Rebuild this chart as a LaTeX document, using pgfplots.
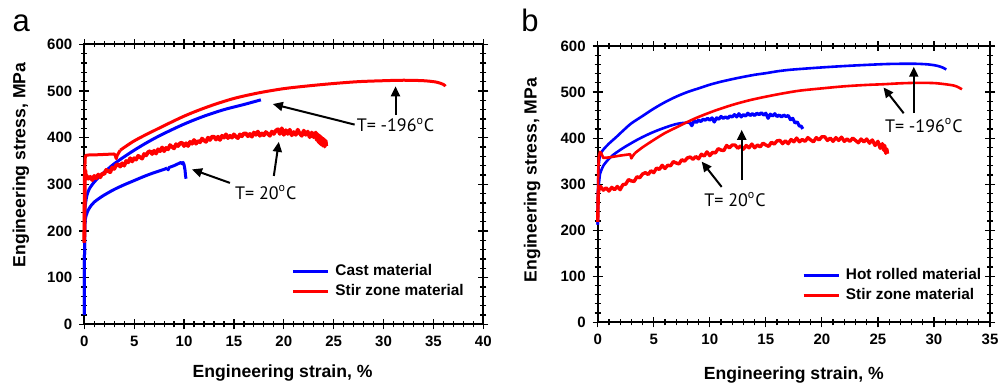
\documentclass[border=0pt]{standalone}
\usepackage{pgfplots}
\pgfplotsset{compat=1.18}
\usepackage{fontspec}
\setmainfont{Liberation Sans}
\newfontfamily\annfont{PT Sans}
\usetikzlibrary{arrows.meta}
\definecolor{cblue}{RGB}{0,0,255}
\definecolor{cred}{RGB}{255,0,0}
\pgfplotsset{
 myaxis/.style={
  scale only axis,
  axis line style={line width=0.9pt},
  tick align=center,
  tick pos=both,
  major tick length=5pt,
  minor tick length=3pt,
  tick style={black, line width=0.6pt},
  ymin=0, ymax=600, ytick={0,100,...,600}, minor y tick num=4,
  minor x tick num=4,
  ticklabel style={font=\fontsize{7.5}{8}\selectfont\bfseries},
  /pgf/number format/assume math mode=true,
  label style={font=\fontsize{8.8}{10}\selectfont\bfseries},
  clip=false,
  legend style={draw=none, fill=none, font=\fontsize{7.7}{9}\selectfont\bfseries, inner sep=0pt, row sep=1.5pt, column sep=2pt, nodes={inner sep=0.8pt}},
  legend cell align=left,
  legend image code/.code={\draw[#1] (0pt,0pt) -- (17.5pt,0pt);},
 },
 sm/.style={smooth, tension=0.5},
}
\tikzset{
 ann/.style={font=\annfont\fontsize{9}{10}\selectfont},
 annarrow/.style={line width=1pt, -{Triangle[length=5pt,width=4.5pt]}},
 bl/.style={cblue, line width=1.5pt, line join=round},
 rd/.style={cred, line width=1.5pt, line join=round},
}
\begin{document}
\begin{tikzpicture}
\useasboundingbox (0,0) rectangle (500pt,-192.5pt);
\node[font=\fontsize{15.5}{16}\selectfont] at (10.6pt,-11.65pt) {a};
\node[font=\fontsize{15.5}{16}\selectfont] at (265pt,-10.4pt) {b};
% ---------------- panel a
\begin{axis}[myaxis,
  at={(42.15pt,-162.15pt)}, anchor=south west,
  width=199.5pt, height=140pt,
  xmin=0, xmax=40, xtick={0,5,...,40},
  xlabel={Engineering strain, \%},
  ylabel={Engineering stress, MPa},
  xlabel style={at={(axis description cs:0.497,-0.175)}, anchor=center},
  ylabel style={at={(axis description cs:-0.159,0.569)}, anchor=center},
  legend style={at={(axis description cs:0.5185,0.1535)}, anchor=west},
]
\addlegendimage{cblue, line width=1.6pt}
\addlegendentry{Cast material}
\addlegendimage{cred, line width=1.6pt}
\addlegendentry{Stir zone material}
% cast, -196 C
\addplot[bl, forget plot] coordinates {(0,20)(0.02,150)(0.05,230)(0.1,255)};
\addplot[bl, sm, forget plot] coordinates {
(0.1,255)(0.25,275)(0.5,290)(1,305)(1.6,318)(2,326)(3,344)(4,359)(5,373)(6,386)(7,398)(8,409)(10,429)(12,446)(14,460)(16,471)(17.7,481)};
% cast, 20 C
\addplot[bl, forget plot] coordinates {(0,20)(0.02,150)(0.05,210)(0.1,225)};
\addplot[bl, sm, forget plot] coordinates {
(0.1,225)(0.2,234)(0.4,245)(0.7,255)(1,262)(1.5,270)(2,277)(3,289)(4,299)(5,308)(6,317)(7,325)(8,332)(8.3,335)};
\addplot[bl, forget plot] coordinates {
(8.3,335)(8.4,331)(8.5,336)(9,340)(9.5,345)(9.7,347)(9.8,344)(9.9,347)(10.0,342)(10.1,330)(10.15,318)(10.2,312)};
% stir zone, 20 C (noisy)
\addplot[rd, line width=1.9pt, forget plot] coordinates {
(0,175)(0.03,250)(0.06,320)(0.1,330)(0.15,318)
(0.2,319)(0.4,312)(0.6,316)(0.8,309)(1.0,318)(1.2,313)(1.4,321)(1.6,315)(1.8,323)(2.0,322)
(2.2,331)(2.4,328)(2.6,326)(2.8,336)(3.0,333)(3.2,341)(3.4,343)(3.6,338)(3.8,345)(4.0,340)
(4.2,350)(4.4,347)(4.6,356)(4.8,349)(5.0,356)(5.2,353)(5.4,361)(5.6,358)(5.8,355)(6.0,365)
(6.2,362)(6.4,369)(6.6,371)(6.8,365)(7.0,372)(7.2,366)(7.4,375)(7.6,371)(7.8,379)(8.0,371)
(8.2,378)(8.4,375)(8.6,384)(8.8,380)(9.0,377)(9.2,386)(9.4,382)(9.6,388)(9.8,389)(10.0,382)
(10.2,388)(10.4,382)(10.6,391)(10.8,387)(11.0,395)(11.2,387)(11.4,393)(11.6,390)(11.8,398)(12.0,394)
(12.2,391)(12.4,400)(12.6,395)(12.8,402)(13.0,402)(13.2,396)(13.4,402)(13.6,395)(13.8,404)(14.0,400)
(14.2,407)(14.4,399)(14.6,404)(14.8,400)(15.0,407)(15.2,402)(15.4,399)(15.6,407)(15.8,403)(16.0,409)
(16.2,409)(16.4,403)(16.6,408)(16.8,402)(17.0,411)(17.2,406)(17.4,413)(17.6,404)(17.8,409)(18.0,405)
(18.2,412)(18.4,408)(18.6,404)(18.8,413)(19.0,408)(19.2,415)(19.4,418)(19.6,408)(19.8,420)(20.0,406)
(20.2,416)(20.4,408)(20.6,417)(20.8,405)(21.0,412)(21.2,406)(21.4,417)(21.6,409)(21.8,404)(22.0,415)
(22.2,406)(22.4,413)(22.6,401)(22.8,411)(23.0,401)(23.2,411)(23.3,395)(23.4,407)(23.5,390)(23.6,404)
(23.7,386)(23.8,400)(23.9,383)(24.0,397)(24.1,381)(24.2,393)(24.25,382)};
% stir zone, -196 C
\addplot[rd, forget plot] coordinates {
(0,175)(0.03,300)(0.08,355)(0.15,362)(0.5,363)(1,363)(2,364)(3,365)(3.1,362)(3.2,355)(3.3,362)(3.6,373)};
\addplot[rd, sm, forget plot] coordinates {
(3.6,373)(5,393)(6.9,414)(10,446)(12.5,467)(15,484)(17.5,496)(20,505)(22.5,511)(25,516)(27.5,520)(30,522)(32,523)(34,522)(35.3,519)(36,514)(36.2,510)};
% annotations
\node[ann] at (axis cs:31.2,427) {T= -196\textsuperscript{o}C};
\draw[annarrow] (axis cs:27.1,428) -- (axis cs:18.9,472);
\draw[annarrow] (axis cs:31.2,448) -- (axis cs:31.2,510);
\node[ann] at (axis cs:18.2,282) {T= 20\textsuperscript{o}C};
\draw[annarrow] (axis cs:14.6,303) -- (axis cs:10.8,332);
\draw[annarrow] (axis cs:19.0,318) -- (axis cs:19.5,391);
\end{axis}
% ---------------- panel b
\begin{axis}[myaxis,
  at={(298.85pt,-161.15pt)}, anchor=south west,
  width=196.15pt, height=138.15pt,
  xmin=0, xmax=35, xtick={0,5,...,35},
  xlabel={Engineering strain, \%},
  ylabel={Engineering stress, MPa},
  xlabel style={at={(axis description cs:0.5,-0.19)}, anchor=center},
  ylabel style={at={(axis description cs:-0.167,0.515)}, anchor=center},
  legend style={at={(axis description cs:0.52,0.1335)}, anchor=west},
]
\addlegendimage{cblue, line width=1.6pt}
\addlegendentry{Hot rolled material}
\addlegendimage{cred, line width=1.6pt}
\addlegendentry{Stir zone material}
% hot rolled, -196 C
\addplot[bl, line width=1.3pt, forget plot] coordinates {(0,212)(0.03,290)(0.08,340)(0.2,365)};
\addplot[bl, line width=1.3pt, sm, forget plot] coordinates {
(0.2,365)(0.5,375)(1,388)(1.6,401)(2.3,417)(3,432)(4,448)(5,464)(6,478)(7,490)(8,500)(9,508)(10,516)(11,522.5)(12,528)(13,533)(14,537.5)(15,541)(16,545)(17,548)(18,550)(20,553.5)(22,556.5)(24,559)(26,561)(28.2,561.5)(29.5,560)(30.3,557)(30.8,553)(31.1,549)};
% hot rolled, 20 C
\addplot[bl, line width=1.3pt, forget plot] coordinates {(0,212)(0.03,260)(0.08,295)(0.2,322)};
\addplot[bl, line width=1.3pt, sm, forget plot] coordinates {
(0.2,322)(0.5,340)(1,355)(1.4,364)(2.3,379)(3.5,396)(4.4,407)(5.25,416)(6.5,427)(7.3,432)(8.2,434)};
\addplot[bl, line width=1.6pt, forget plot] coordinates {
(8.2,434)(8.4,427)(8.6,438)(8.8,434)(9.0,439)(9.2,436)(9.4,441)(9.6,439)(9.8,443)(10.0,439)(10.2,444)
(10.4,435)(10.6,444)(10.8,441)(11.0,447)(11.2,443)(11.4,446)(11.6,443)(11.8,448)(12.0,446)(12.2,451)
(12.4,446)(12.6,453)(12.8,446)(13.0,451)(13.2,448)(13.4,454)(13.6,449)(13.8,453)(14.0,449)(14.2,454)
(14.4,451)(14.6,455)(14.8,450)(15.0,454)(15.2,443)(15.4,452)(15.6,448)(15.8,453)(16.0,447)(16.2,450)
(16.4,446)(16.6,450)(16.8,447)(17.0,449)(17.2,440)(17.4,443)(17.6,433)(17.8,435)(18.0,426)(18.15,426)(18.3,420)};
% stir zone, 20 C
\addplot[rd, line width=1.7pt, forget plot] coordinates {
(0,218)(0.05,280)(0.15,292)
(0.25,295)(0.5,287)(0.75,292)(1.0,285)(1.25,293)(1.5,288)(1.75,295)(2.0,288)(2.25,299)(2.5,300)
(2.75,310)(3.0,307)(3.25,306)(3.5,316)(3.75,314)(4.0,322)(4.25,325)(4.5,321)(4.75,329)(5.0,325)
(5.25,335)(5.5,332)(5.75,341)(6.0,334)(6.25,341)(6.5,340)(6.75,349)(7.0,346)(7.25,344)(7.5,353)
(7.75,350)(8.0,357)(8.25,359)(8.5,354)(8.75,360)(9.0,355)(9.25,365)(9.5,361)(9.75,370)(10.0,362)
(10.25,369)(10.5,368)(10.75,377)(11.0,374)(11.25,373)(11.5,384)(11.75,379)(12.0,385)(12.25,385)(12.5,378)
(12.75,383)(13.0,376)(13.25,384)(13.5,379)(13.75,387)(14.0,379)(14.25,385)(14.5,381)(14.75,389)(15.0,385)
(15.25,382)(15.5,391)(15.75,387)(16.0,394)(16.25,395)(16.5,388)(16.75,394)(17.0,388)(17.25,397)(17.5,392)
(17.75,400)(18.0,392)(18.25,397)(18.5,393)(18.75,401)(19.0,396)(19.25,392)(19.5,401)(19.75,396)(20.0,403)
(20.25,403)(20.5,395)(20.75,400)(21.0,393)(21.25,401)(21.5,395)(21.75,402)(22.0,393)(22.25,398)(22.5,393)
(22.75,400)(23.0,395)(23.25,390)(23.5,398)(23.75,392)(24.0,398)(24.25,389)(24.5,396)(24.75,384)(25.0,393)
(25.2,378)(25.4,388)(25.5,374)(25.6,384)(25.7,367)(25.8,376)(25.85,366)};
% stir zone, -196 C
\addplot[rd, line width=1.3pt, forget plot] coordinates {
(0,218)(0.05,330)(0.1,360)(0.2,370)(0.3,368)(0.5,357)(1,358)(2,362)(2.9,365)(3.0,356)(3.1,360)(3.3,367)};
\addplot[rd, line width=1.3pt, sm, forget plot] coordinates {
(3.3,367)(4,380)(5,396)(6,411)(7,423)(8,435)(9,446)(10.5,460)(12,472)(13.5,482)(15,490)(16.5,497)(18,503)(20,508)(22,512.5)(24,515.5)(25.5,517)(27,519)(28.5,520)(30,519.5)(31,517)(31.8,514)(32.2,510)(32.5,506)};
\draw[black, line width=1.4pt] (axis cs:0,600) -- (axis cs:3.5,600);
% annotations
\node[ann] at (axis cs:29.1,428) {T= -196\textsuperscript{o}C};
\draw[annarrow] (axis cs:27.3,454) -- (axis cs:25.5,510);
\draw[annarrow] (axis cs:28.2,454) -- (axis cs:28.2,555);
\node[ann] at (axis cs:12.25,266) {T= 20\textsuperscript{o}C};
\draw[annarrow] (axis cs:11.06,294) -- (axis cs:9.28,349);
\draw[annarrow] (axis cs:12.85,309) -- (axis cs:12.85,418);
\end{axis}
\end{tikzpicture}
\end{document}
